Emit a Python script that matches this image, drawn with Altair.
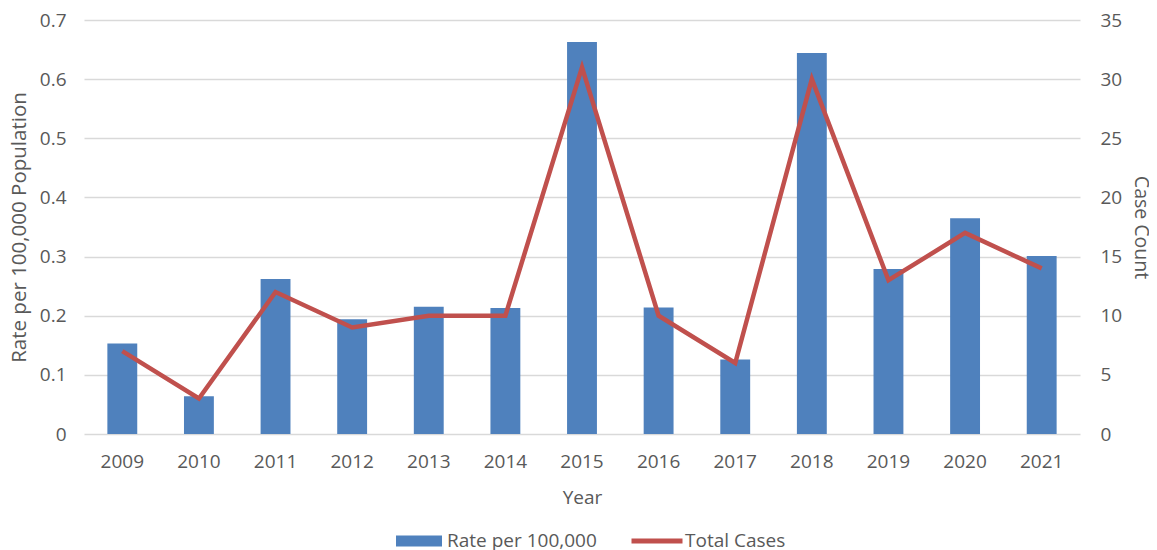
import altair as alt
import pandas as pd

years = ["2009", "2010", "2011", "2012", "2013", "2014", "2015",
         "2016", "2017", "2018", "2019", "2020", "2021"]
rate = [0.153, 0.064, 0.262, 0.194, 0.215, 0.213, 0.663,
        0.214, 0.126, 0.644, 0.279, 0.365, 0.301]
cases = [7, 3, 12, 9, 10, 10, 31, 10, 6, 30, 13, 17, 14]
rate_ticks = [0, 0.1, 0.2, 0.3, 0.4, 0.5, 0.6, 0.7]
case_ticks = [0, 5, 10, 15, 20, 25, 30, 35]

df = pd.DataFrame({"Year": years, "Rate": rate, "Cases": cases})

FONT = "Open Sans"
GRAY = "#595959"
BLUE = "#4F81BD"
RED = "#C0504D"

x_enc = alt.X(
    "Year:N", title="Year", sort=years,
    scale=alt.Scale(paddingInner=0.61, paddingOuter=0.305),
    axis=alt.Axis(labelAngle=0, ticks=False, domain=False, grid=False,
                  labelPadding=18, titlePadding=17),
)

bars = alt.Chart(df).transform_calculate(s="'Rate per 100,000'").mark_bar().encode(
    x=x_enc,
    y=alt.Y("Rate:Q", title="Rate per 100,000 Population",
            scale=alt.Scale(domain=[0, 0.7], nice=False),
            axis=alt.Axis(values=rate_ticks, format=".1~f", grid=True, ticks=False,
                          domain=False, labelPadding=18, titlePadding=10,
                          titleFontSize=20.5)),
    fill=alt.Fill("s:N", scale=alt.Scale(range=[BLUE]),
                  legend=alt.Legend(title=None, orient="none", legendX=312, legendY=498,
                                    symbolType="M-1,-0.24H1V0.24H-1Z", symbolSize=2116,
                                    symbolStrokeWidth=0, labelOffset=5, padding=0)),
)

line = alt.Chart(df).transform_calculate(t="'Total Cases'").mark_line(strokeWidth=4.5).encode(
    x=x_enc,
    y=alt.Y("Cases:Q", title="Case Count",
            scale=alt.Scale(domain=[0, 35], nice=False),
            axis=alt.Axis(orient="right", values=case_ticks, grid=False, ticks=False,
                          domain=False, labelPadding=20, titlePadding=9,
                          titleFontSize=19.5)),
    stroke=alt.Stroke("t:N", scale=alt.Scale(range=[RED]),
                      legend=alt.Legend(title=None, orient="none", legendX=545, legendY=493,
                                        symbolType="stroke", symbolSize=2601,
                                        symbolStrokeWidth=5, labelOffset=0, padding=0)),
)

chart = alt.layer(bars, line).resolve_scale(
    y="independent", fill="independent", stroke="independent"
).properties(
    width=996, height=414,
    autosize=alt.AutoSizeParams(type="none"),
    padding={"left": 76, "top": 12, "right": 69, "bottom": 116},
).configure_axis(
    labelFont=FONT, labelFontSize=19, labelColor=GRAY,
    titleFont=FONT, titleFontSize=19, titleColor=GRAY, titleFontWeight="normal",
    gridColor="#D9D9D9", gridWidth=1.3,
).configure_legend(
    labelFont=FONT, labelFontSize=19, labelColor=GRAY,
).configure_view(strokeWidth=0)

chart.save("out.html", embed_options={"renderer": "svg", "actions": False})
